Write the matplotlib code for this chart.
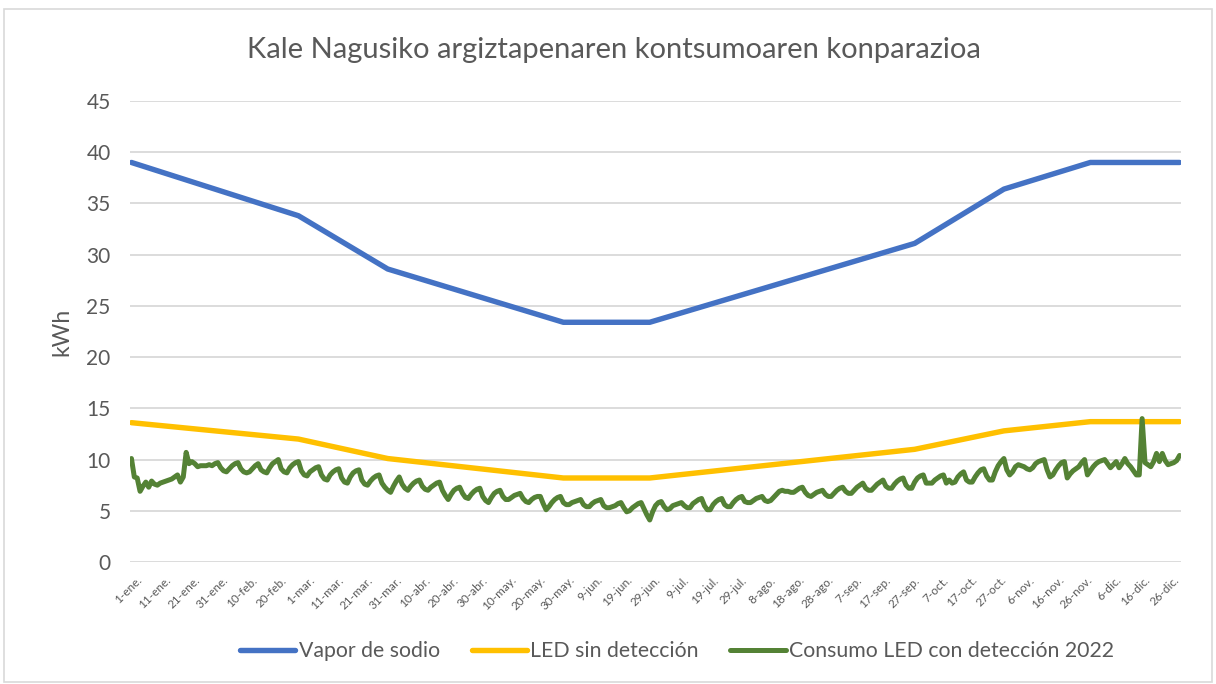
import numpy as np
import matplotlib.pyplot as plt
import matplotlib.transforms as mtransforms
from matplotlib.patches import Rectangle

plt.rcParams['font.family'] = ['Lato', 'DejaVu Sans']

# Day index 0..364 for 2022, tick labels every 10 days
tick_days = list(range(0, 365, 10))
tick_labels = ['1-ene.', '11-ene.', '21-ene.', '31-ene.', '10-feb.', '20-feb.', '1-mar.',
               '11-mar.', '21-mar.', '31-mar.', '10-abr.', '20-abr.', '30-abr.', '10-may.',
               '20-may.', '30-may.', '9-jun.', '19-jun.', '29-jun.', '9-jul.', '19-jul.',
               '29-jul.', '8-ago.', '18-ago.', '28-ago.', '7-sep.', '17-sep.', '27-sep.',
               '7-oct.', '17-oct.', '27-oct.', '6-nov.', '16-nov.', '26-nov.', '6-dic.',
               '16-dic.', '26-dic.']

# Sodium vapour and LED (no detection) consumption, given at turning days
vapor_days = [0, 58, 89, 150, 180, 272, 303, 333, 364]
vapor_kwh = [39.0, 33.8, 28.6, 23.4, 23.4, 31.1, 36.4, 39.0, 39.0]

led_days = [0, 58, 89, 150, 180, 272, 303, 333, 364]
led_kwh = [13.6, 12.0, 10.1, 8.2, 8.2, 11.0, 12.8, 13.7, 13.7]

# Measured daily consumption with detection, one row per week
led_det_kwh = [
    10.1, 8.3, 8.2, 6.9, 7.4, 7.8, 7.3,
    7.9, 7.6, 7.5, 7.7, 7.8, 7.9, 8.0,
    8.1, 8.3, 8.5, 7.8, 8.3, 10.7, 9.6,
    9.8, 9.6, 9.3, 9.4, 9.4, 9.4, 9.5,
    9.4, 9.6, 9.7, 9.2, 8.9, 8.8, 9.1,
    9.4, 9.6, 9.7, 9.1, 8.8, 8.7, 8.8,
    9.1, 9.4, 9.6, 9.0, 8.8, 8.7, 9.2,
    9.6, 9.8, 10.0, 9.1, 8.8, 8.7, 9.2,
    9.5, 9.7, 9.8, 8.9, 8.5, 8.4, 8.8,
    9.0, 9.2, 9.3, 8.5, 8.1, 8.0, 8.5,
    8.8, 9.0, 9.1, 8.2, 7.8, 7.7, 8.3,
    8.7, 8.9, 9.0, 8.0, 7.6, 7.5, 7.9,
    8.2, 8.4, 8.5, 7.7, 7.3, 7.0, 6.8,
    7.4, 7.9, 8.3, 7.6, 7.2, 7.0, 7.4,
    7.7, 7.9, 8.0, 7.4, 7.1, 7.0, 7.3,
    7.5, 7.7, 7.8, 7.0, 6.5, 6.1, 6.6,
    7.0, 7.2, 7.3, 6.7, 6.3, 6.2, 6.6,
    6.9, 7.1, 7.2, 6.4, 6.0, 5.8, 6.3,
    6.7, 6.9, 7.0, 6.4, 6.1, 6.1, 6.3,
    6.5, 6.6, 6.7, 6.2, 5.9, 5.8, 6.1,
    6.3, 6.4, 6.4, 5.7, 5.1, 5.4, 5.8,
    6.1, 6.3, 6.4, 5.8, 5.6, 5.6, 5.8,
    5.9, 6.0, 6.1, 5.6, 5.4, 5.4, 5.7,
    5.9, 6.0, 6.1, 5.5, 5.3, 5.3, 5.4,
    5.5, 5.7, 5.8, 5.3, 4.9, 5.0, 5.3,
    5.5, 5.7, 5.8, 5.2, 4.6, 4.1, 4.9,
    5.5, 5.8, 5.9, 5.4, 5.1, 5.2, 5.5,
    5.6, 5.7, 5.8, 5.5, 5.3, 5.3, 5.7,
    5.9, 6.1, 6.2, 5.5, 5.1, 5.1, 5.6,
    5.9, 6.1, 6.2, 5.6, 5.4, 5.4, 5.8,
    6.1, 6.3, 6.4, 5.9, 5.8, 5.8, 6.0,
    6.2, 6.3, 6.4, 6.0, 5.9, 6.0, 6.3,
    6.6, 6.9, 7.0, 6.9, 6.9, 6.8, 6.8,
    7.0, 7.2, 7.3, 6.8, 6.5, 6.4, 6.6,
    6.8, 6.9, 7.0, 6.6, 6.4, 6.4, 6.7,
    7.0, 7.2, 7.3, 6.9, 6.7, 6.7, 7.0,
    7.3, 7.5, 7.7, 7.2, 7.0, 7.0, 7.3,
    7.6, 7.8, 8.0, 7.4, 7.2, 7.2, 7.6,
    7.9, 8.1, 8.2, 7.5, 7.2, 7.2, 7.8,
    8.2, 8.4, 8.5, 7.7, 7.7, 7.7, 8.0,
    8.2, 8.4, 8.5, 7.7, 8.0, 7.7, 7.8,
    8.3, 8.6, 8.8, 8.0, 7.8, 7.8, 8.3,
    8.7, 9.0, 9.1, 8.4, 8.0, 8.0, 8.8,
    9.4, 9.8, 10.1, 9.0, 8.5, 8.8, 9.3,
    9.5, 9.4, 9.3, 9.1, 9.0, 9.2, 9.6,
    9.8, 9.9, 10.0, 9.0, 8.3, 8.5, 9.0,
    9.4, 9.7, 9.8, 8.2, 8.6, 8.9, 9.1,
    9.3, 9.7, 10.0, 8.5, 8.9, 9.3, 9.6,
    9.8, 9.9, 10.0, 9.6, 9.2, 9.5, 9.8,
    9.2, 9.6, 10.1, 9.6, 9.3, 8.9, 8.5,
    8.5, 14.0, 9.7, 9.5, 9.3, 9.8, 10.6,
    9.8, 10.6, 9.9, 9.5, 9.6, 9.7, 9.9,
    10.4,
]
days = np.arange(len(led_det_kwh))

fig = plt.figure(figsize=(12.16, 6.84), dpi=100)
ax = fig.add_axes([130 / 1216, 1 - 562 / 684, 1051 / 1216, 461 / 684])

grey = '#595959'
ax.plot(vapor_days, vapor_kwh, color='#4472C4', lw=3.9, solid_capstyle='round',
        label='Vapor de sodio', zorder=3)
ax.plot(led_days, led_kwh, color='#FFC000', lw=3.9, solid_capstyle='round',
        label='LED sin detección', zorder=3)
ax.plot(days, led_det_kwh, color='#548235', lw=3.6, solid_capstyle='round',
        solid_joinstyle='round', label='Consumo LED con detección 2022', zorder=4)

ax.set_xlim(-0.5, 364.5)
ax.set_ylim(0, 45)
ax.set_yticks(range(0, 46, 5))
ax.tick_params(axis='y', length=0, labelsize=15, labelcolor=grey, pad=14)
ax.set_xticks(tick_days)
ax.set_xticklabels(tick_labels, rotation=45, ha='right', rotation_mode='anchor',
                   fontsize=8.5, color=grey)
ax.tick_params(axis='x', length=0, pad=9)
shift = mtransforms.ScaledTranslation(0.05, 0, fig.dpi_scale_trans)
for lab in ax.get_xticklabels():
    lab.set_transform(lab.get_transform() + shift)
ax.grid(axis='y', color='#D9D9D9', lw=1.3)
ax.set_axisbelow(True)
for s in ax.spines.values():
    s.set_visible(False)

ax.set_ylabel('kWh', fontsize=16.5, color=grey)
ax.yaxis.set_label_coords(-58 / 1051, 0.5)
fig.text(614 / 1216, 1 - 50 / 684, 'Kale Nagusiko argiztapenaren kontsumoaren konparazioa',
         ha='center', va='center', fontsize=21, color=grey)

leg = fig.legend(loc='center', bbox_to_anchor=(677 / 1216, 1 - 651 / 684), ncol=3,
                 frameon=False, fontsize=15.3, handlelength=2.6, handletextpad=0.15,
                 columnspacing=1.5)
for t in leg.get_texts():
    t.set_color(grey)

# chart area border
fig.patches.append(Rectangle((4 / 1216, 2 / 684), 1208 / 1216, 673 / 684,
                             transform=fig.transFigure, fill=False,
                             edgecolor='#D9D9D9', lw=1.2))

fig.savefig('out.png', dpi=100)
